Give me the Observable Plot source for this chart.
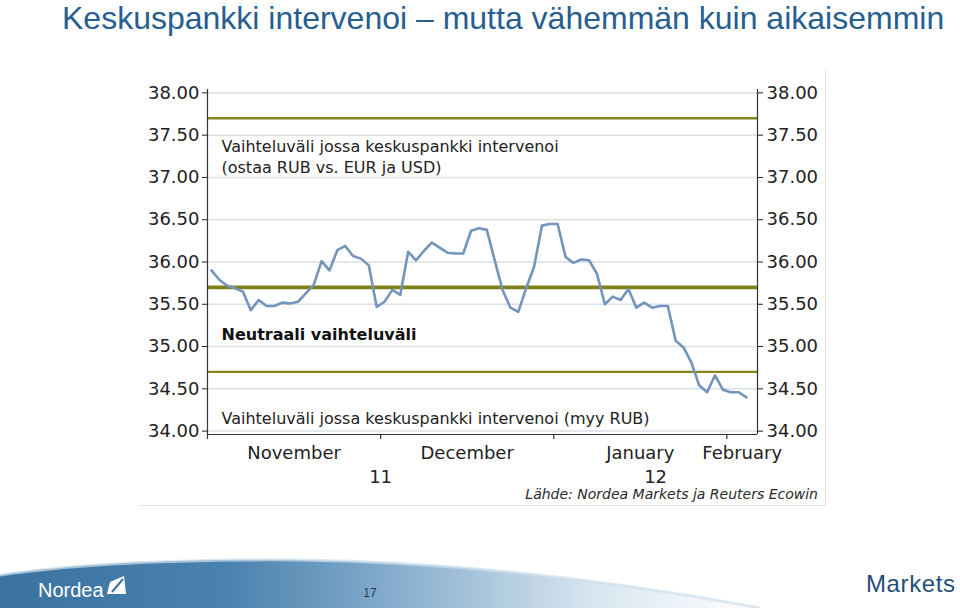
<!DOCTYPE html>
<html><head><meta charset="utf-8">
<script src="https://cdn.jsdelivr.net/npm/d3@7"></script>
<script src="https://cdn.jsdelivr.net/npm/@observablehq/plot@0.6"></script>
<style>
html,body{margin:0;padding:0;background:#fff;}
body{width:960px;height:608px;position:relative;overflow:hidden;}
#title{position:absolute;left:62px;top:0px;font-family:"Liberation Sans",Arial,sans-serif;font-size:32px;line-height:36px;color:#275e91;white-space:nowrap;}
#frame{position:absolute;left:140px;top:70px;width:686px;height:436px;border-right:1px solid #e2e2e2;border-bottom:1px solid #e2e2e2;box-sizing:border-box;}
#chart{position:absolute;left:0;top:0;}
#source{position:absolute;right:142px;top:487px;font-family:"DejaVu Sans",sans-serif;font-style:italic;font-size:14px;line-height:14px;color:#2a2a2a;white-space:nowrap;}
#footer{position:absolute;left:0;top:548px;}
</style></head>
<body>
<div id="title">Keskuspankki intervenoi – mutta vähemmän kuin aikaisemmin</div>
<div id="frame"></div>
<div id="chart"></div>
<div id="source">Lähde: Nordea Markets ja Reuters Ecowin</div>
<svg id="footer" width="960" height="60" viewBox="0 0 960 60">
  <defs>
    <linearGradient id="band" x1="0" y1="0" x2="760" y2="0" gradientUnits="userSpaceOnUse">
      <stop offset="0" stop-color="#3a73a0"/>
      <stop offset="0.3" stop-color="#4a82ae"/>
      <stop offset="0.55" stop-color="#8fb3d0"/>
      <stop offset="0.78" stop-color="#d8e6f0"/>
      <stop offset="1" stop-color="#ffffff"/>
    </linearGradient>
  </defs>
  <path d="M0,27 C80,15 180,11 300,12 C450,14 600,30 760,60 L0,60Z" fill="url(#band)"/>
  <path d="M0,27 C80,15 180,11 300,12 C450,14 600,30 760,60" fill="none" stroke="#cfe0ec" stroke-width="3" opacity="0.7"/>
  <text x="38" y="49" fill="#ffffff" font-family="Liberation Sans" font-size="20">Nordea</text>
  <path d="M107,46 L126,46 L124,28 L110,34 Z" fill="#ffffff"/>
  <path d="M112,44 L123,31" stroke="#3a73a0" stroke-width="2"/>
  <text x="370" y="49" fill="#2e3b48" font-family="Liberation Sans" font-size="12" text-anchor="middle">17</text>
  <text x="866" y="44" fill="#1e4e79" font-family="Liberation Sans" font-size="24" letter-spacing="0.6">Markets</text>
</svg>
<script>
// RUB basket rate (EUR/USD basket), daily, 1 Nov 2011 – 3 Feb 2012
const values = [35.90, 35.79, 35.72, 35.69, 35.65, 35.43, 35.55, 35.48, 35.48, 35.52,
  35.51, 35.53, 35.63, 35.73, 36.01, 35.90, 36.14, 36.19, 36.07, 36.04,
  35.96, 35.47, 35.53, 35.67, 35.61, 36.12, 36.02, 36.13, 36.23, 36.17,
  36.11, 36.10, 36.10, 36.37, 36.40, 36.38, 36.02, 35.67, 35.46, 35.41,
  35.69, 35.94, 36.43, 36.45, 36.45, 36.06, 35.99, 36.03, 36.02, 35.86,
  35.50, 35.59, 35.55, 35.68, 35.46, 35.52, 35.46, 35.48, 35.48, 35.07,
  34.99, 34.81, 34.54, 34.46, 34.66, 34.49, 34.46, 34.46, 34.40];
const firstDay = "2011-11-01";
const lastDay = "2012-02-03";
const yTicks = [34.0, 34.5, 35.0, 35.5, 36.0, 36.5, 37.0, 37.5, 38.0];
const bandLevels = [37.70, 35.70, 34.70];
const noteTexts = ["Vaihteluväli jossa keskuspankki intervenoi", "(ostaa RUB vs. EUR ja USD)", "Vaihteluväli jossa keskuspankki intervenoi (myy RUB)"];
const noteLevels = [37.36, 37.11, 34.14];
const neutralText = "Neutraali vaihteluväli";
const neutralLevel = 35.14;

const dates = d3.utcDays(new Date(firstDay), d3.utcDay.offset(new Date(lastDay), 1)).filter(d => d.getUTCDay() % 6 !== 0);
const rows = values.map((v, i) => ({i, date: dates[i], value: v}));
const xMin = -0.5, xMax = values.length + 0.4;
const yMin = 33.96, yMax = 38.04;

function segments(key, fmt) {
  const starts = rows.filter((d, i) => i === 0 || key(d.date) !== key(rows[i - 1].date));
  return starts.map((d, k) => {
    const s = d.i - 0.5;
    const e = k + 1 < starts.length ? starts[k + 1].i - 0.5 : xMax;
    return {start: s, mid: (s + e) / 2, label: fmt(d.date)};
  });
}
const months = segments(d => d.getUTCFullYear() * 12 + d.getUTCMonth(), d3.utcFormat("%B"));
const years = segments(d => d.getUTCFullYear(), d3.utcFormat("%y"));
const notes = noteTexts.map((t, k) => ({text: t, y: noteLevels[k]}));

const chart = Plot.plot({
  width: 960, height: 520,
  marginLeft: 207, marginRight: 203, marginTop: 89, marginBottom: 86,
  x: {type: "linear", domain: [xMin, xMax], axis: null},
  y: {domain: [yMin, yMax], axis: null},
  style: {fontFamily: "DejaVu Sans, sans-serif", fontSize: "18px", color: "#222", background: "transparent", overflow: "visible"},
  marks: [
    Plot.ruleY(yTicks, {stroke: "#d9e1e9", strokeWidth: 1.5}),
    Plot.ruleY([bandLevels[0], bandLevels[2]], {stroke: "#85851b", strokeWidth: 2.3}),
    Plot.ruleY([bandLevels[1]], {stroke: "#80801a", strokeWidth: 3.6}),
    Plot.text(notes, {y: "y", text: "text", frameAnchor: "left", textAnchor: "start", dx: 14, fontSize: 16, fill: "#222"}),
    Plot.text([neutralText], {y: () => neutralLevel, text: d => d, frameAnchor: "left", textAnchor: "start", dx: 14, fontSize: 16, fontWeight: "bold", fill: "#111"}),
    Plot.line(rows, {x: "i", y: "value", stroke: "#7495bb", strokeWidth: 2.6, strokeLinejoin: "round"}),
    Plot.ruleX([xMin, xMax], {stroke: "#333", strokeWidth: 1.2}),
    Plot.ruleY([yMin], {stroke: "#333", strokeWidth: 1.2}),
    Plot.ruleX(months, {x: "start", y1: () => yMin, y2: () => yMin, insetBottom: -5, stroke: "#333", strokeWidth: 1.2}),
    Plot.axisY(yTicks, {anchor: "left", tickSize: 5, tickPadding: 3, tickFormat: d3.format(".2f"), fontSize: 18}),
    Plot.axisY(yTicks, {anchor: "right", tickSize: 5, tickPadding: 4, tickFormat: d3.format(".2f"), fontSize: 18}),
    Plot.text(months, {x: "mid", text: "label", frameAnchor: "bottom", lineAnchor: "top", dy: 12, fontSize: 18, fill: "#222"}),
    Plot.text(years, {x: "mid", text: "label", frameAnchor: "bottom", lineAnchor: "top", dy: 36, fontSize: 18, fill: "#222"})
  ]
});
document.getElementById("chart").append(chart);
</script>
</body></html>
